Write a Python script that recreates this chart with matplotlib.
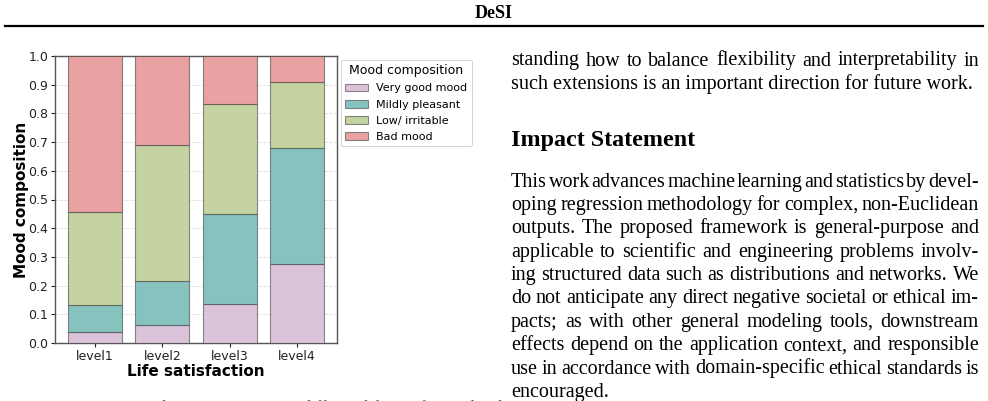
import matplotlib.pyplot as plt
import numpy as np

# ---- data ----
levels = ["level1", "level2", "level3", "level4"]
moods = ["Very good mood", "Mildly pleasant", "Low/ irritable", "Bad mood"]
very_good = [0.038, 0.062, 0.135, 0.275]
mildly_pleasant = [0.095, 0.155, 0.314, 0.405]
low_irritable = [0.324, 0.472, 0.385, 0.230]
bad_mood = [0.543, 0.311, 0.166, 0.090]
mood_colors = ["#DBC4DA", "#87C3BE", "#C4D3A1", "#E9A1A1"]

header = "DeSI"
col_lines_top = [
    "standing how to balance flexibility and interpretability in",
    "such extensions is an important direction for future work.",
]
heading = "Impact Statement"
para_lines = [
    "This work advances machine learning and statistics by devel-",
    "oping regression methodology for complex, non-Euclidean",
    "outputs.  The proposed framework is general-purpose and",
    "applicable to scientific and engineering problems involv-",
    "ing structured data such as distributions and networks. We",
    "do not anticipate any direct negative societal or ethical im-",
    "pacts; as with other general modeling tools, downstream",
    "effects depend on the application context, and responsible",
    "use in accordance with domain-specific ethical standards is",
    "encouraged.",
]
caption = "Figure 4. Mood composition across different life satisfaction levels."

W, H = 988, 401
fig = plt.figure(figsize=(W / 100, H / 100), dpi=100)
fig.patch.set_facecolor("white")


def px(x, y):
    # pixel coords (from top-left) -> figure fraction
    return x / W, 1 - y / H


# ---- bar chart ----
ax = fig.add_axes([55 / W, 1 - 343 / H, (337 - 55) / W, (343 - 56) / H])
x = np.arange(len(levels))
bottom = np.zeros(len(levels))
edge = (0.25, 0.25, 0.25, 0.6)
for name, vals, c in zip(moods, [very_good, mildly_pleasant, low_irritable, bad_mood], mood_colors):
    ax.bar(x, vals, 0.8, bottom=bottom, color=c, edgecolor=edge, linewidth=0.8,
           label=name, zorder=3)
    bottom += np.array(vals)

ax.set_ylim(0, 1.0)
ax.set_yticks(np.arange(0, 1.01, 0.1))
ax.set_yticklabels([f"{v:.1f}" for v in np.arange(0, 1.01, 0.1)])
ax.set_xticks(x)
ax.set_xticklabels(levels)
ax.tick_params(labelsize=9, length=3, width=0.8, colors="#222222", pad=2)
ax.yaxis.grid(True, linestyle="--", color="#dddddd", linewidth=0.6, zorder=0)
for s in ax.spines.values():
    s.set_color("#555555")
    s.set_linewidth(1.0)
ax.set_xlabel("Life satisfaction", fontsize=11, fontweight="bold", labelpad=1)
ax.set_ylabel("Mood composition", fontsize=11, fontweight="bold", labelpad=-1)

leg = ax.legend(title="Mood composition", loc="upper left", bbox_to_anchor=(1.0, 1.0),
                borderaxespad=0.35, fontsize=8, title_fontsize=9,
                handlelength=2.0, handleheight=0.7, labelspacing=0.55, frameon=True)
leg.get_frame().set_edgecolor("#cccccc")
leg.get_frame().set_linewidth(0.8)

# ---- page elements ----
serif = ["Liberation Serif", "DejaVu Serif"]
fx, fy = px(494, 18)
fig.text(fx, fy, header, ha="center", va="baseline", fontsize=13,
         fontweight="bold", family=serif)
fig.add_artist(plt.Line2D([5 / W, 983 / W], [1 - 25.5 / H] * 2, color="black",
                          linewidth=1.6, transform=fig.transFigure))

renderer = fig.canvas.get_renderer()
FS = 14.5
LEFT, RIGHT = 511, 979


def draw_line(text, y, justify):
    words = text.split()
    if not justify:
        tx, ty = px(LEFT, y)
        fig.text(tx, ty, text, ha="left", va="baseline", fontsize=FS, family=serif)
        return
    objs = []
    for w_ in words:
        t = fig.text(0, 0, w_, ha="left", va="baseline", fontsize=FS, family=serif)
        objs.append(t)
    widths = [t.get_window_extent(renderer).width for t in objs]
    gap = (RIGHT - LEFT - sum(widths)) / max(len(words) - 1, 1)
    cur = LEFT
    for t, wd in zip(objs, widths):
        t.set_position(px(cur, y))
        cur += wd + gap


draw_line(col_lines_top[0], 65.5, True)
draw_line(col_lines_top[1], 89.5, False)

hx, hy = px(LEFT, 146)
fig.text(hx, hy, heading, ha="left", va="baseline", fontsize=17.3,
         fontweight="bold", family=serif)

y0 = 186.7
for i, line in enumerate(para_lines):
    draw_line(line, y0 + 23.35 * i, i < len(para_lines) - 1)

# caption cut off by the bottom edge of the crop
cx, cy = px(62, 411.5)
fig.text(cx, cy, caption, ha="left", va="baseline", fontsize=12, family=serif,
         color="#555555")

fig.savefig("out.png", dpi=100, facecolor="white")
